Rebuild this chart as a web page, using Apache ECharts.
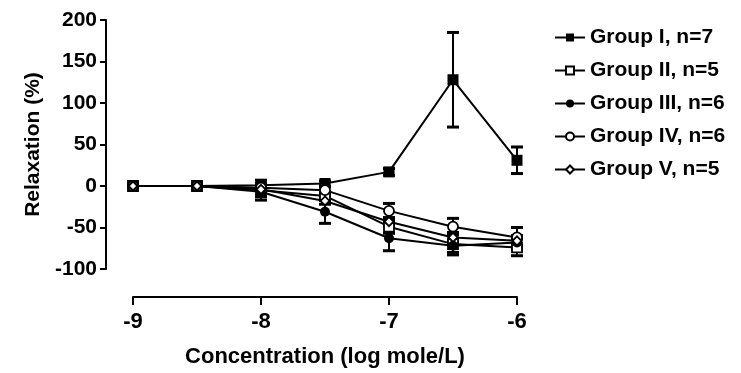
<!DOCTYPE html>
<html>
<head>
<meta charset="utf-8">
<script src="https://cdn.jsdelivr.net/npm/echarts@6/dist/echarts.min.js"></script>
<style>
html, body { margin: 0; padding: 0; background: #fff; }
#chart { width: 741px; height: 373px; }
</style>
</head>
<body>
<div id="chart"></div>
<script>
// log concentration of each dose
var concentrations = [-9, -8.5, -8, -7.5, -7, -6.5, -6];

var groupNames = ['Group I, n=7', 'Group II, n=5', 'Group III, n=6', 'Group IV, n=6', 'Group V, n=5'];

// mean relaxation (%)
var group1 = [0, 0, 1, 3, 17, 128, 31];
var group2 = [0, 0, -5, -12, -49, -70, -74];
var group3 = [0, 0, -7, -31, -63, -72, -68];
var group4 = [0, 0, -2, -5, -30, -49, -62];
var group5 = [0, 0, -4, -18, -43, -62, -66];

// error (sem)
var err1 = [0, 0, 2, 3, 4, 57, 16];
var err2 = [0, 0, 12, 5, 8, 13, 10];
var err3 = [0, 0, 6, 14, 15, 8, 8];
var err4 = [0, 0, 3, 4, 9, 10, 12];
var err5 = [0, 0, 2, 4, 5, 6, 6];

var symbols = ['rect', 'rect', 'circle', 'circle', 'diamond'];
var filled = [true, false, true, false, false];
var sizes = [11, 10, 10, 10, 9];

var means = [group1, group2, group3, group4, group5];
var errs = [err1, err2, err3, err4, err5];

var font = 'Liberation Sans, Arial, sans-serif';

var series = [];
means.forEach(function (vals, k) {
	var errData = [];
	vals.forEach(function (v, i) {
		if (errs[k][i] > 0) errData.push([concentrations[i], v - errs[k][i], v + errs[k][i]]);
	});
	series.push({
		type: 'custom',
		name: groupNames[k] + ' err',
		data: errData,
		clip: false,
		silent: true,
		z: 1,
		renderItem: function (params, api) {
			var x = api.value(0);
			var lo = api.coord([x, api.value(1)]);
			var hi = api.coord([x, api.value(2)]);
			var w = 6;
			var style = { stroke: '#000', lineWidth: 2 };
			return {
				type: 'group',
				children: [
					{ type: 'line', shape: { x1: lo[0], y1: lo[1], x2: hi[0], y2: hi[1] }, style: style },
					{ type: 'line', shape: { x1: lo[0] - w, y1: lo[1], x2: lo[0] + w, y2: lo[1] }, style: { stroke: '#000', lineWidth: 3 } },
					{ type: 'line', shape: { x1: hi[0] - w, y1: hi[1], x2: hi[0] + w, y2: hi[1] }, style: { stroke: '#000', lineWidth: 3 } }
				]
			};
		}
	});
});
means.forEach(function (vals, k) {
	series.push({
		type: 'line',
		name: groupNames[k],
		data: vals.map(function (v, i) { return [concentrations[i], v]; }),
		symbol: symbols[k],
		symbolSize: sizes[k],
		showAllSymbol: true,
		clip: false,
		z: 3 + k,
		lineStyle: { color: '#000', width: 2 },
		itemStyle: { color: filled[k] ? '#000' : '#fff', borderColor: '#000', borderWidth: filled[k] ? 0 : 1.8 }
	});
});

var chart = echarts.init(document.getElementById('chart'));
chart.setOption({
	animation: false,
	backgroundColor: '#fff',
	grid: { left: 133, right: 224, top: 20, bottom: 104, outerBoundsMode: 'none', containLabel: false },
	legend: {
		data: groupNames,
		orient: 'vertical',
		left: 549,
		top: 22,
		itemWidth: 30,
		itemHeight: 10,
		itemGap: 12,
		textStyle: { fontFamily: font, fontWeight: 'bold', fontSize: 21, color: '#000' }
	},
	xAxis: {
		type: 'value',
		min: -9,
		max: -6,
		interval: 1,
		offset: 28,
		name: 'Concentration (log mole/L)',
		nameLocation: 'middle',
		nameGap: 49,
		nameTextStyle: { fontFamily: font, fontWeight: 'bold', fontSize: 22, color: '#000' },
		splitLine: { show: false },
		axisLine: { onZero: false, lineStyle: { color: '#000', width: 2 } },
		axisTick: { length: 8, lineStyle: { color: '#000', width: 2 } },
		axisLabel: { fontFamily: font, fontWeight: 'bold', fontSize: 22, color: '#000', margin: 14 }
	},
	yAxis: {
		type: 'value',
		min: -100,
		max: 200,
		interval: 50,
		offset: 27,
		name: 'Relaxation (%)',
		nameLocation: 'middle',
		nameGap: 62,
		nameRotate: 90,
		nameTextStyle: { fontFamily: font, fontWeight: 'bold', fontSize: 21, color: '#000' },
		splitLine: { show: false },
		axisLine: { show: true, onZero: false, lineStyle: { color: '#000', width: 2 } },
		axisTick: { show: true, length: 6, lineStyle: { color: '#000', width: 2 } },
		axisLabel: { fontFamily: font, fontWeight: 'bold', fontSize: 21, color: '#000', margin: 9 }
	},
	series: series
});
</script>
</body>
</html>
